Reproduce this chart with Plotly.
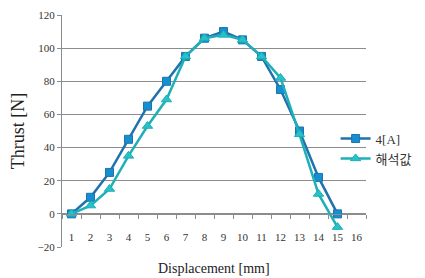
import plotly.graph_objects as go

categories = [str(i) for i in range(1, 17)]
x_vals = [str(i) for i in range(1, 16)]
series_4a = [0, 10, 25, 45, 65, 80, 95, 106, 110, 105, 95, 75, 50, 22, 0]
series_calc = [0, 5, 15, 35, 53, 69, 95, 106, 108, 105, 95, 82, 48, 12, -8]
y_ticks = [-20, 0, 20, 40, 60, 80, 100, 120]

fig = go.Figure()
fig.add_trace(go.Scatter(
    x=x_vals, y=series_4a, name="4[A]", mode="lines+markers",
    line=dict(color="#1f72ad", width=2.5),
    marker=dict(symbol="square", size=8, color="#1590cf", line=dict(color="#1f72ad", width=1)),
))
fig.add_trace(go.Scatter(
    x=x_vals, y=series_calc, name="해석값", mode="lines+markers",
    line=dict(color="#1eafb8", width=2.5),
    marker=dict(symbol="triangle-up", size=9, color="#27c2c8", line=dict(color="#1eafb8", width=1)),
))

ymin, ymax = -20, 120
fig.update_layout(
    width=425, height=278,
    margin=dict(l=62, r=59, t=15, b=31, autoexpand=False),
    paper_bgcolor="white", plot_bgcolor="white",
    font=dict(family="Liberation Serif", color="#222"),
    showlegend=True,
    legend=dict(x=0.9, y=0.532, xanchor="left", yanchor="top",
                font=dict(family="Liberation Serif, Noto Sans CJK KR", size=13, color="#333"),
                itemwidth=30, bgcolor="rgba(0,0,0,0)"),
    xaxis=dict(
        type="category", categoryorder="array", categoryarray=categories,
        range=[-0.5, 15.5], automargin=False, tickangle=0,
        anchor="free", position=(0 - ymin) / (ymax - ymin),
        showline=True, linecolor="#8c8c8c", linewidth=1,
        ticks="outside", tickson="boundaries", ticklen=4, tickcolor="#8c8c8c",
        showgrid=False, ticklabelstandoff=13,
        tickfont=dict(family="Liberation Serif", size=11, color="#333"),
    ),
    yaxis=dict(
        range=[ymin, ymax], tickvals=y_ticks, automargin=False,
        showline=True, linecolor="#8c8c8c", linewidth=1,
        ticks="outside", ticklen=4, tickcolor="#8c8c8c",
        showgrid=True, gridcolor="#8c8c8c", gridwidth=1, zeroline=False,
        tickfont=dict(family="Liberation Serif", size=11, color="#333"),
        title=dict(text="Thrust [N]", font=dict(family="Liberation Serif", size=18, color="#222"), standoff=8),
    ),
    annotations=[dict(
        text="Displacement [mm]", xref="paper", yref="paper", x=0.5, y=0,
        xanchor="center", yanchor="top", yshift=-12, showarrow=False,
        font=dict(family="Liberation Serif", size=14, color="#222"),
    )],
)

fig.write_html("out.html", config={"displayModeBar": False},
               post_script="document.body.style.margin='0';document.body.style.overflow='hidden';")
